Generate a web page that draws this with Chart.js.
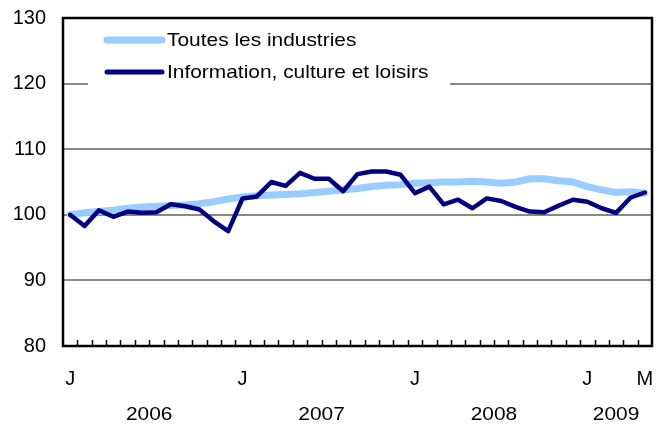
<!DOCTYPE html>
<html>
<head>
<meta charset="utf-8">
<script src="https://cdn.jsdelivr.net/npm/chart.js@4/dist/chart.umd.min.js"></script>
<style>
  html, body { margin: 0; padding: 0; background: #fff; }
  #wrap { width: 670px; height: 430px; }
</style>
</head>
<body>
<div id="wrap"><canvas id="chart" width="670" height="430"></canvas></div>
<script>
'use strict';

// monthly, January 2006 to May 2009
var years = [2006, 2007, 2008, 2009];
var monthsPerYear = [12, 12, 12, 5];
var monthLetters = ['J', 'F', 'M', 'A', 'M', 'J', 'J', 'A', 'S', 'O', 'N', 'D'];

var allIndustries = [
  100.0, 100.3, 100.5, 100.7, 101.0, 101.2, 101.3, 101.4, 101.5, 101.7, 102.0, 102.4,
  102.7, 102.9, 103.0, 103.1, 103.2, 103.4, 103.6, 103.8, 104.0, 104.3, 104.5, 104.6,
  104.8, 104.9, 105.0, 105.0, 105.1, 105.0, 104.8, 105.0, 105.5, 105.5, 105.2, 105.0,
  104.3, 103.8, 103.4, 103.5, 103.3
];
var infoCulture = [
  100.0, 98.3, 100.7, 99.7, 100.5, 100.3, 100.4, 101.6, 101.3, 100.8, 99.0, 97.5,
  102.5, 102.8, 105.0, 104.4, 106.4, 105.5, 105.5, 103.6, 106.2, 106.6, 106.6, 106.1,
  103.3, 104.3, 101.6, 102.3, 101.0, 102.5, 102.1, 101.2, 100.5, 100.4, 101.4, 102.3,
  102.0, 101.0, 100.3, 102.6, 103.4
];
var seriesNames = ['Toutes les industries', 'Information, culture et loisirs'];

var labels = [];
var yearOfLabel = [];
years.forEach(function (y, i) {
  for (var m = 0; m < monthsPerYear[i]; m++) {
    labels.push(monthLetters[m] + ' ' + y);
    yearOfLabel.push(y);
  }
});

var FONT = 'Liberation Sans, Arial, Helvetica, sans-serif';

// text a little wider than Arial, like the original
var wideText = function (ctx, txt, x, y, align) {
  ctx.save();
  ctx.translate(x, y);
  ctx.scale(1.1, 1);
  ctx.textAlign = align;
  ctx.textBaseline = 'middle';
  ctx.fillText(txt, 0, 0);
  ctx.restore();
};

var framePlugin = {
  id: 'frame',
  beforeDatasetsDraw: function (chart) {
    var ctx = chart.ctx;
    // legend box, covers the grid
    ctx.save();
    ctx.fillStyle = '#fff';
    ctx.fillRect(88, 24, 362, 66);
    ctx.lineCap = 'round';
    chart.data.datasets.forEach(function (ds, i) {
      var y = 40 + i * 32;
      ctx.strokeStyle = ds.borderColor;
      ctx.lineWidth = i === 0 ? 7 : 5;
      ctx.beginPath();
      ctx.moveTo(107, y);
      ctx.lineTo(162, y);
      ctx.stroke();
      ctx.fillStyle = '#000';
      ctx.font = '19px ' + FONT;
      wideText(ctx, ds.label, 167, y + 1, 'left');
    });
    ctx.restore();
  },
  afterDraw: function (chart) {
    var ctx = chart.ctx, a = chart.chartArea, x = chart.scales.x;
    ctx.save();
    // small inward ticks between months
    ctx.strokeStyle = '#000';
    ctx.lineWidth = 1.5;
    var step = x.getPixelForValue(1) - x.getPixelForValue(0);
    for (var i = 1; i < labels.length; i++) {
      var px = Math.round(x.getPixelForValue(i) - step / 2) + 0.5;
      ctx.beginPath();
      ctx.moveTo(px, a.bottom);
      ctx.lineTo(px, a.bottom - 6);
      ctx.stroke();
    }
    // frame
    ctx.lineWidth = 2.5;
    ctx.strokeRect(a.left, a.top, a.right - a.left, a.bottom - a.top);
    // year labels
    ctx.fillStyle = '#000';
    ctx.font = '19px ' + FONT;
    years.forEach(function (y) {
      var first = yearOfLabel.indexOf(y), last = yearOfLabel.lastIndexOf(y);
      var cx = (x.getPixelForValue(first) + x.getPixelForValue(last)) / 2;
      wideText(ctx, String(y), cx, 415, 'center');
    });
    ctx.restore();
  }
};

new Chart(document.getElementById('chart'), {
  type: 'line',
  data: {
    labels: labels,
    datasets: [
      { label: seriesNames[0], data: allIndustries, borderColor: '#99ccff', borderWidth: 7,
        pointRadius: 0, tension: 0, fill: false, order: 1, borderCapStyle: 'round', borderJoinStyle: 'round' },
      { label: seriesNames[1], data: infoCulture, borderColor: '#000080', borderWidth: 4.5,
        pointRadius: 0, tension: 0, fill: false, order: 0, borderCapStyle: 'round', borderJoinStyle: 'round' }
    ]
  },
  options: {
    responsive: false,
    animation: false,
    layout: { padding: { top: 18, right: 18, left: 0, bottom: 0 } },
    plugins: { legend: { display: false }, tooltip: { enabled: false } },
    scales: {
      x: {
        type: 'category',
        offset: true,
        grid: { display: false },
        border: { display: false },
        afterFit: function (s) { s.height = 84; s.paddingLeft = 0; s.paddingRight = 0; },
        ticks: {
          autoSkip: false, maxRotation: 0, padding: 13,
          color: '#000', font: { size: 20, family: FONT },
          callback: function (v, i) {
            if (i % 12 === 0) return 'J';
            if (i === labels.length - 1) return 'M';
            return '';
          }
        }
      },
      y: {
        min: 80, max: 130,
        grid: { color: '#888', lineWidth: 2, drawTicks: false },
        border: { display: false },
        afterFit: function (s) { s.width = 63; s.paddingTop = 0; s.paddingBottom = 0; },
        ticks: { stepSize: 10, padding: 17, color: '#000', font: { size: 20, family: FONT } }
      }
    }
  },
  plugins: [framePlugin]
});
</script>
</body>
</html>
